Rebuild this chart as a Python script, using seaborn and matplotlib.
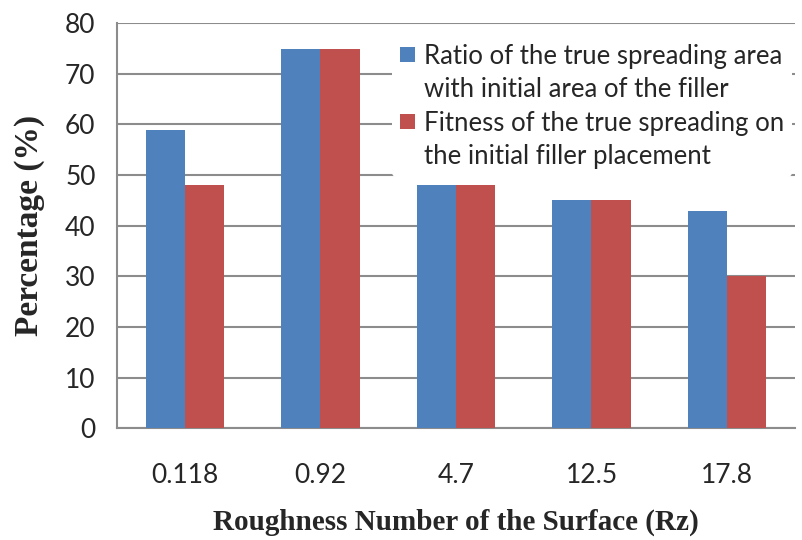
import matplotlib
matplotlib.use("Agg")
import matplotlib.pyplot as plt
from matplotlib.patches import Rectangle
from matplotlib.legend_handler import HandlerPatch
import seaborn as sns
import pandas as pd

categories = ["0.118", "0.92", "4.7", "12.5", "17.8"]
series_names = ["Ratio of the true spreading area\nwith initial area of the filler",
                "Fitness of the true spreading on\nthe initial filler placement"]
ratio_values = [59, 75, 48, 45, 43]
fitness_values = [48, 75, 48, 45, 30]
y_ticks = [0, 10, 20, 30, 40, 50, 60, 70, 80]
colors = ["#4F81BD", "#C0504D"]

df = pd.DataFrame({
    "Rz": categories * 2,
    "value": ratio_values + fitness_values,
    "series": [series_names[0]] * len(categories) + [series_names[1]] * len(categories),
})

sns.set_style("white")
plt.rcParams["font.family"] = ["Lato", "DejaVu Sans"]

fig = plt.figure(figsize=(8.02, 5.40), dpi=100)
ax = fig.add_axes([0.146, 0.207, 0.845, 0.750])

sns.barplot(data=df, x="Rz", y="value", hue="series", palette=colors,
            saturation=1, width=0.58, ax=ax, edgecolor="none", zorder=3)

ax.set_ylim(0, 80)
ax.set_yticks(y_ticks)
ax.set_xlim(-0.5, len(categories) - 0.5)
ax.yaxis.grid(True, color="#8C8C8C", linewidth=1.5, zorder=0)
ax.set_axisbelow(True)
for s in ["top", "right"]:
    ax.spines[s].set_visible(False)
for s in ["left", "bottom"]:
    ax.spines[s].set_color("#8C8C8C")
    ax.spines[s].set_linewidth(1.5)
ax.tick_params(axis="y", length=6.5, width=1.5, color="#8C8C8C", labelsize=19, pad=9)
ax.tick_params(axis="x", length=0, labelsize=19, pad=25)

ax.set_xlabel("Roughness Number of the Surface (Rz)", family="Liberation Serif",
              fontweight="bold", fontsize=21, labelpad=15)
ax.set_ylabel("Percentage (%)", family="Liberation Serif",
              fontweight="bold", fontsize=24, labelpad=14)


class TopSquare(HandlerPatch):
    def create_artists(self, legend, orig_handle, xdescent, ydescent, width,
                       height, fontsize, trans):
        size = 0.58 * fontsize
        r = Rectangle((-xdescent, -ydescent + 0.78 * fontsize), size, size,
                      facecolor=orig_handle.get_facecolor(), edgecolor="none",
                      transform=trans)
        return [r]


handles, labels = ax.get_legend_handles_labels()
leg = ax.legend(handles, labels, loc="upper right", bbox_to_anchor=(1.0, 0.975),
                frameon=True, fontsize=18.5, handlelength=0.6, handleheight=0.6,
                handletextpad=0.35, labelspacing=0.35, borderaxespad=0.1,
                borderpad=0.3, handler_map={Rectangle: TopSquare()})
for t in leg.get_texts():
    t.set_linespacing(1.42)
leg.get_frame().set_facecolor("white")
leg.get_frame().set_edgecolor("none")
leg.get_frame().set_alpha(1)
leg.set_zorder(5)

fig.savefig("out.png", dpi=100)
